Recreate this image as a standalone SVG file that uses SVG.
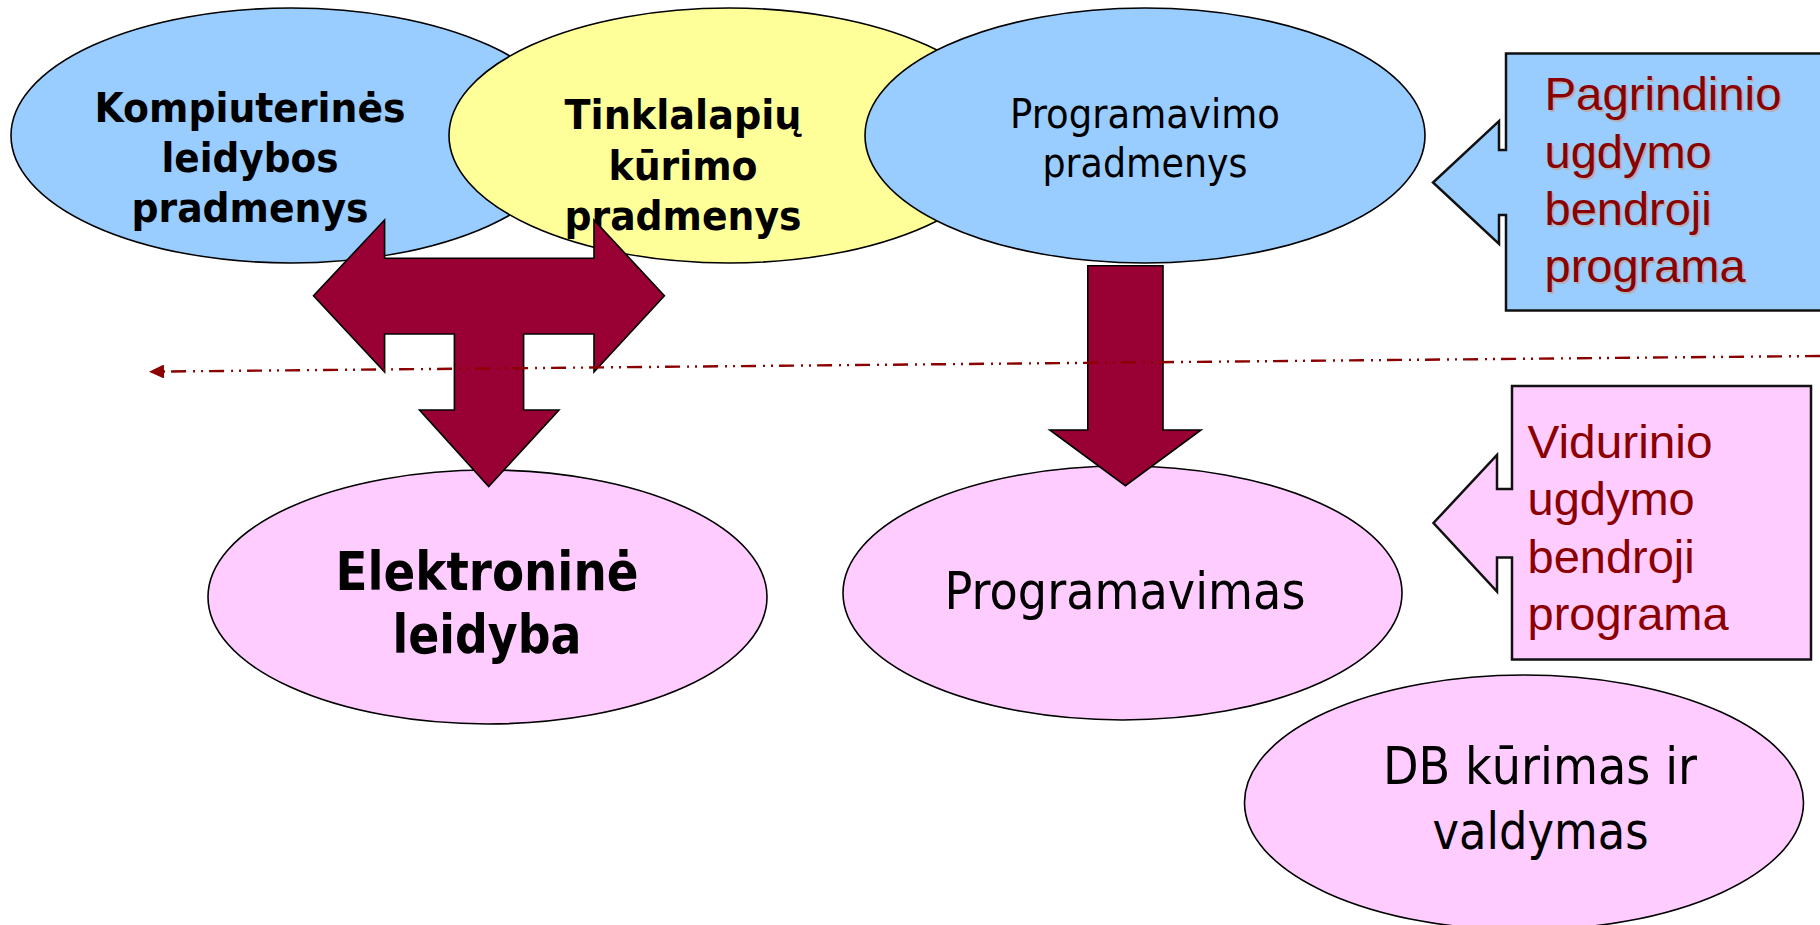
<svg xmlns="http://www.w3.org/2000/svg" width="1820" height="925" viewBox="0 0 1820 925">
<defs>
<style>
.ell{stroke:#000;stroke-width:1.6}
.blue{fill:#99CCFF}
.yellow{fill:#FFFF99}
.pink{fill:#FFCCFF}
.tb{font-family:"DejaVu Sans",Verdana,sans-serif;font-weight:bold;fill:#000}
.tn{font-family:"DejaVu Sans",Verdana,sans-serif;font-weight:normal;fill:#000}
.ct{font-family:"Liberation Sans",Arial,sans-serif;font-size:47px;fill:#8B0000}
.sh{font-family:"Liberation Sans",Arial,sans-serif;font-size:47px;fill:#B4AFB4}
.arrow{fill:#990033;stroke:#000;stroke-width:1.6;stroke-linejoin:miter}
.call{stroke:#111;stroke-width:2.5}
</style>
<marker id="ah" viewBox="0 0 15 14" refX="0" refY="7" markerWidth="15" markerHeight="14" markerUnits="userSpaceOnUse" orient="auto-start-reverse">
<path d="M0,0 L15,7 L0,14 Z" fill="#8B0000"/>
</marker>
</defs>
<rect width="1820" height="925" fill="#fff"/>

<g id="node-kompiuterines">
<ellipse class="ell blue" cx="291" cy="135.5" rx="280" ry="127.5"/>
<text class="tb" font-size="40" text-anchor="middle"><tspan x="250" y="122" textLength="311" lengthAdjust="spacingAndGlyphs">Kompiuterinės</tspan><tspan x="250" y="172" textLength="177" lengthAdjust="spacingAndGlyphs">leidybos</tspan><tspan x="250" y="222" textLength="237" lengthAdjust="spacingAndGlyphs">pradmenys</tspan></text>
</g>

<g id="node-tinklalapiu">
<ellipse class="ell yellow" cx="729" cy="135.5" rx="280" ry="127.5"/>
<text class="tb" font-size="40" text-anchor="middle"><tspan x="683" y="129" textLength="237" lengthAdjust="spacingAndGlyphs">Tinklalapių</tspan><tspan x="683" y="180" textLength="149" lengthAdjust="spacingAndGlyphs">kūrimo</tspan><tspan x="683" y="230" textLength="237" lengthAdjust="spacingAndGlyphs">pradmenys</tspan></text>
</g>

<g id="node-programavimo">
<ellipse class="ell blue" cx="1145" cy="135.5" rx="280" ry="127.5"/>
<text class="tn" font-size="40" text-anchor="middle"><tspan x="1145" y="128" textLength="270" lengthAdjust="spacingAndGlyphs">Programavimo</tspan><tspan x="1145" y="177" textLength="205" lengthAdjust="spacingAndGlyphs">pradmenys</tspan></text>
</g>

<g id="node-pagrindinio">
<path class="call blue" d="M1830,53.5 L1506,53.5 L1506,150 L1499,150 L1499,121 L1433,182.5 L1499,244 L1499,215 L1506,215 L1506,310.5 L1830,310.5"/>
<text class="sh"><tspan x="1546.5" y="112" textLength="237" lengthAdjust="spacingAndGlyphs">Pagrindinio</tspan><tspan x="1546.5" y="169.5">ugdymo</tspan><tspan x="1546.5" y="227">bendroji</tspan><tspan x="1546.5" y="284">programa</tspan></text>
<text class="ct"><tspan x="1544.5" y="110" textLength="237" lengthAdjust="spacingAndGlyphs">Pagrindinio</tspan><tspan x="1544.5" y="167.5">ugdymo</tspan><tspan x="1544.5" y="225">bendroji</tspan><tspan x="1544.5" y="282">programa</tspan></text>
</g>

<g id="node-elektronine">
<ellipse class="ell pink" cx="487.5" cy="597" rx="279.5" ry="127"/>
<text class="tb" font-size="54" text-anchor="middle"><tspan x="487" y="590" textLength="303" lengthAdjust="spacingAndGlyphs">Elektroninė</tspan><tspan x="487" y="653" textLength="189" lengthAdjust="spacingAndGlyphs">leidyba</tspan></text>
</g>

<g id="node-programavimas">
<ellipse class="ell pink" cx="1122.5" cy="593" rx="279.5" ry="127"/>
<text class="tn" font-size="51" text-anchor="middle"><tspan x="1125" y="609" textLength="361" lengthAdjust="spacingAndGlyphs">Programavimas</tspan></text>
</g>

<g id="node-vidurinio">
<path class="call pink" d="M1512,386 L1512,489 L1497,489 L1497,455 L1433.5,523 L1497,591.5 L1497,557.5 L1512,557.5 L1512,659.5 L1811,659.5 L1811,386 Z"/>
<text class="ct"><tspan x="1527.5" y="458" textLength="185" lengthAdjust="spacingAndGlyphs">Vidurinio</tspan><tspan x="1527.5" y="515">ugdymo</tspan><tspan x="1527.5" y="573">bendroji</tspan><tspan x="1527.5" y="630">programa</tspan></text>
</g>

<g id="node-db">
<ellipse class="ell pink" cx="1524" cy="802.5" rx="279.5" ry="127.5"/>
<text class="tn" font-size="51" text-anchor="middle"><tspan x="1540" y="784" textLength="314" lengthAdjust="spacingAndGlyphs">DB kūrimas ir</tspan><tspan x="1540.5" y="848.5" textLength="216" lengthAdjust="spacingAndGlyphs">valdymas</tspan></text>
</g>

<g id="connectors">
<path class="arrow" d="M384.6,220 L384.6,258.3 L594,258.3 L594,220 L664.4,295.8 L594,372 L594,334 L523.6,334 L523.6,410 L559,410 L488.7,486.5 L419.5,410 L454.4,410 L454.4,334 L384.6,334 L384.6,372 L313.5,295.8 Z"/>
<path class="arrow" d="M1087.8,265.7 L1163,265.7 L1163,430 L1201,430 L1125.4,485.7 L1049.8,430 L1087.8,430 Z"/>
<line x1="1820" y1="356" x2="164" y2="371.5" stroke="#8B0000" stroke-width="2.4" stroke-dasharray="15 6 2 6 2 7" marker-end="url(#ah)"/>
</g>
</svg>
